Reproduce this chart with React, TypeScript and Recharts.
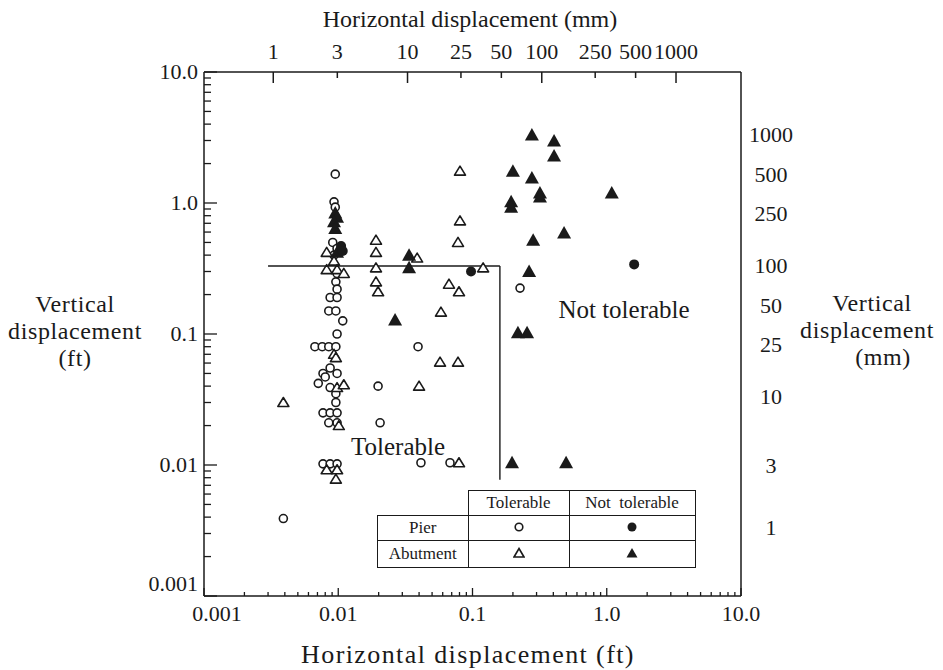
import React from "react";
import {
  ScatterChart,
  Scatter,
  XAxis,
  YAxis,
  ReferenceLine,
} from "recharts";

// Displacement data, in feet: [horizontal, vertical]
const pierTolerable: [number, number][] = [
  [0.0095, 1.66], [0.0093, 1.02], [0.0095, 0.93], [0.0091, 0.5], [0.0098, 0.45], [0.0093, 0.4],
  [0.0098, 0.29], [0.0096, 0.25], [0.0098, 0.22], [0.0087, 0.19], [0.0098, 0.19], [0.0085, 0.15],
  [0.0096, 0.15], [0.0108, 0.126], [0.0098, 0.1],
  [0.0067, 0.08], [0.0076, 0.08], [0.0085, 0.08], [0.0096, 0.08],
  [0.0087, 0.055], [0.0077, 0.05], [0.0098, 0.05], [0.008, 0.047], [0.0071, 0.042], [0.0087, 0.039],
  [0.0096, 0.035], [0.0096, 0.03], [0.0077, 0.025], [0.0087, 0.025], [0.0098, 0.025],
  [0.0085, 0.021], [0.0098, 0.021],
  [0.0077, 0.0102], [0.0087, 0.0102], [0.0098, 0.0102],
  [0.0039, 0.0039],
  [0.0198, 0.04], [0.0205, 0.021], [0.0393, 0.08], [0.0413, 0.0104], [0.068, 0.0104], [0.226, 0.224],
];

const pierNotTolerable: [number, number][] = [
  [0.0105, 0.47], [0.0108, 0.43], [0.0975, 0.3], [1.6, 0.34],
];

const abutmentTolerable: [number, number][] = [
  [0.0082, 0.42], [0.0093, 0.36], [0.0082, 0.31], [0.0098, 0.31], [0.011, 0.29],
  [0.0093, 0.07], [0.0096, 0.066], [0.0098, 0.039], [0.011, 0.041], [0.0101, 0.02],
  [0.0082, 0.0092], [0.0098, 0.0092], [0.0096, 0.0078],
  [0.0039, 0.03],
  [0.0191, 0.52], [0.0191, 0.42], [0.0191, 0.32], [0.0191, 0.25], [0.0198, 0.21], [0.0387, 0.38],
  [0.0807, 1.75], [0.0807, 0.73], [0.078, 0.5], [0.12, 0.32], [0.0668, 0.24], [0.0793, 0.21],
  [0.0582, 0.147], [0.0573, 0.061], [0.078, 0.061], [0.04, 0.04], [0.0793, 0.0104],
];

const abutmentNotTolerable: [number, number][] = [
  [0.0095, 0.84], [0.0098, 0.78], [0.0093, 0.72], [0.0095, 0.64], [0.0098, 0.42],
  [0.0337, 0.4], [0.0337, 0.32], [0.0265, 0.128],
  [0.277, 3.3], [0.405, 2.97], [0.405, 2.28], [0.2, 1.75], [0.277, 1.55], [0.318, 1.19],
  [0.318, 1.11], [0.194, 1.02], [0.194, 0.93], [1.09, 1.19], [0.481, 0.59], [0.283, 0.52],
  [0.264, 0.3], [0.218, 0.102], [0.255, 0.102], [0.197, 0.0104], [0.498, 0.0104],
];

// tolerable limit: 100 mm vertical, 50 mm horizontal
const limitY = 0.33;
const limitX = 0.16;
const limitStartX = 0.003;
const limitEndY = 0.0077;

const ftMajor = [0.001, 0.01, 0.1, 1, 10];
const ftLabels = ["0.001", "0.01", "0.1", "1.0", "10.0"];
const ftMinor = [2, 3, 4, 5, 6, 7, 8, 9];
const mmTicks = [1, 3, 10, 25, 50, 100, 250, 500, 1000];
const mmLong = [1, 10, 100, 1000];

const ftTicks: number[] = [];
ftMajor.forEach((d, i) => {
  ftTicks.push(d);
  if (i < ftMajor.length - 1) ftMinor.forEach((m) => ftTicks.push(+(d * m).toPrecision(3)));
});

const FT_TO_MM = 304.8;
const FONT = '"Liberation Serif", "Times New Roman", serif';
const INK = "#1a1a1a";

const toPts = (arr: [number, number][]) => arr.map(([x, y]) => ({ x, y }));
const toMmPts = (arr: [number, number][]) =>
  arr.map(([x, y]) => ({ x: x * FT_TO_MM, y: y * FT_TO_MM }));

const labelFor = (v: number) => {
  const i = ftMajor.findIndex((d) => Math.abs(d - v) < d * 1e-6);
  return i >= 0 ? ftLabels[i] : null;
};

const BottomTick = (props: any) => {
  const { x, y, payload } = props;
  const lab = labelFor(payload.value);
  // the first label sits a little right of its tick in the original
  const shift = lab === "0.001" ? 13 : 0;
  return (
    <g>
      <line x1={x} y1={y} x2={x} y2={y - (lab ? 8 : 4)} stroke={INK} strokeWidth={1.3} />
      {lab && (
        <text x={x + shift} y={y + 25} textAnchor="middle" fontSize={22} fontFamily={FONT} fill={INK}>
          {lab}
        </text>
      )}
    </g>
  );
};

const LeftTick = (props: any) => {
  const { x, y, payload } = props;
  const lab = labelFor(payload.value);
  const lift = lab === "0.001" ? -12 : 0;
  return (
    <g>
      <line x1={x} y1={y} x2={x + (lab ? 13 : 7)} y2={y} stroke={INK} strokeWidth={1.3} />
      {lab && (
        <text x={x - 6} y={y + 7 + lift} textAnchor="end" fontSize={22} fontFamily={FONT} fill={INK}>
          {lab}
        </text>
      )}
    </g>
  );
};

const TopTick = (props: any) => {
  const { x, y, payload } = props;
  const long = mmLong.includes(payload.value);
  return (
    <g>
      <line x1={x} y1={y} x2={x} y2={y + (long ? 11 : 6)} stroke={INK} strokeWidth={1.5} />
      <text x={x} y={y - 13} textAnchor="middle" fontSize={22} fontFamily={FONT} fill={INK}>
        {payload.value}
      </text>
    </g>
  );
};

const RightTick = (props: any) => {
  const { x, y, payload } = props;
  return (
    <text x={x + 30} y={y + 7} textAnchor="middle" fontSize={22} fontFamily={FONT} fill={INK}>
      {payload.value}
    </text>
  );
};

const OpenCircle = (p: any) => (
  <circle cx={p.cx} cy={p.cy} r={4} fill="#fff" stroke={INK} strokeWidth={1.6} />
);
const FilledCircle = (p: any) => <circle cx={p.cx} cy={p.cy} r={5} fill={INK} />;
const OpenTriangle = (p: any) => (
  <polygon
    points={`${p.cx},${p.cy - 5} ${p.cx + 5.5},${p.cy + 4} ${p.cx - 5.5},${p.cy + 4}`}
    fill="#fff"
    stroke={INK}
    strokeWidth={1.6}
    strokeLinejoin="round"
  />
);
const FilledTriangle = (p: any) => (
  <polygon
    points={`${p.cx},${p.cy - 7} ${p.cx + 7},${p.cy + 5.5} ${p.cx - 7},${p.cy + 5.5}`}
    fill={INK}
  />
);

const abs = (left: number, top: number, extra: React.CSSProperties = {}): React.CSSProperties => ({
  position: "absolute",
  left,
  top,
  fontFamily: FONT,
  color: INK,
  whiteSpace: "nowrap",
  lineHeight: 1,
  ...extra,
});

const cell: React.CSSProperties = {
  border: `1.5px solid ${INK}`,
  padding: 0,
  textAlign: "center",
  fontSize: 17,
};

export default function App() {
  return (
    <div style={{ position: "relative", width: 935, height: 662, background: "#fff" }}>
      <ScatterChart width={935} height={662} margin={{ top: 0, right: 0, bottom: 0, left: 0 }}>
        <XAxis
          xAxisId="ft"
          dataKey="x"
          type="number"
          scale="log"
          domain={[0.001, 10]}
          allowDataOverflow
          ticks={ftTicks}
          interval={0}
          orientation="bottom"
          height={74}
          tickLine={false}
          tickSize={0}
          tickMargin={0}
          tick={BottomTick}
          axisLine={{ stroke: INK, strokeWidth: 1.5 }}
        />
        <XAxis
          xAxisId="mm"
          dataKey="x"
          type="number"
          scale="log"
          domain={[0.001 * FT_TO_MM, 10 * FT_TO_MM]}
          allowDataOverflow
          ticks={mmTicks}
          interval={0}
          orientation="top"
          height={64}
          tickLine={false}
          tickSize={0}
          tickMargin={0}
          tick={TopTick}
          axisLine={{ stroke: INK, strokeWidth: 1.5 }}
        />
        <YAxis
          yAxisId="ft"
          dataKey="y"
          type="number"
          scale="log"
          domain={[0.001, 10]}
          allowDataOverflow
          ticks={ftTicks}
          interval={0}
          orientation="left"
          width={196}
          tickLine={false}
          tickSize={0}
          tickMargin={0}
          tick={LeftTick}
          axisLine={{ stroke: INK, strokeWidth: 1.5 }}
        />
        <YAxis
          yAxisId="mm"
          dataKey="y"
          type="number"
          scale="log"
          domain={[0.001 * FT_TO_MM, 10 * FT_TO_MM]}
          allowDataOverflow
          ticks={mmTicks}
          interval={0}
          orientation="right"
          width={202}
          tickLine={false}
          tickSize={0}
          tickMargin={0}
          tick={RightTick}
          axisLine={{ stroke: INK, strokeWidth: 1.5 }}
        />
        <ReferenceLine
          xAxisId="ft"
          yAxisId="ft"
          segment={[{ x: limitStartX, y: limitY }, { x: limitX, y: limitY }]}
          stroke={INK}
          strokeWidth={1.4}
        />
        <ReferenceLine
          xAxisId="ft"
          yAxisId="ft"
          segment={[{ x: limitX, y: limitY }, { x: limitX, y: limitEndY }]}
          stroke={INK}
          strokeWidth={1.4}
        />
        <Scatter xAxisId="ft" yAxisId="ft" data={toPts(pierTolerable)} shape={OpenCircle} isAnimationActive={false} />
        <Scatter xAxisId="ft" yAxisId="ft" data={toPts(abutmentTolerable)} shape={OpenTriangle} isAnimationActive={false} />
        <Scatter xAxisId="ft" yAxisId="ft" data={toPts(abutmentNotTolerable)} shape={FilledTriangle} isAnimationActive={false} />
        {/* same points, plotted against the mm axes */}
        <Scatter xAxisId="mm" yAxisId="mm" data={toMmPts(pierNotTolerable)} shape={FilledCircle} isAnimationActive={false} />
      </ScatterChart>

      <div style={abs(262, -1, { width: 400, textAlign: "center", fontSize: 24 })}>
        Horizontal displacement (mm)
      </div>
      <div style={abs(210, 634, { width: 500, textAlign: "center", fontSize: 26, letterSpacing: 1.4 })}>
        Horizontal displacement (ft)
      </div>
      <div style={abs(-3, 283, { width: 140, textAlign: "center", fontSize: 24, letterSpacing: 0.6, lineHeight: "27px" })}>
        Vertical
        <br />
        displacement
        <br />
        (ft)
      </div>
      <div style={abs(804, 283, { width: 120, textAlign: "center", fontSize: 24, letterSpacing: 0.6 })}>Vertical</div>
      <div style={abs(789, 310, { width: 140, textAlign: "center", fontSize: 24, letterSpacing: 0.6 })}>displacement</div>
      <div style={abs(815, 337, { width: 120, textAlign: "center", fontSize: 24, letterSpacing: 0.6 })}>(mm)</div>
      <div style={abs(330, 426, { width: 120, textAlign: "center", fontSize: 25 })}>Tolerable</div>
      <div style={abs(541, 289, { width: 150, textAlign: "center", fontSize: 25 })}>Not tolerable</div>

      <table
        style={{
          position: "absolute",
          left: 369,
          top: 482,
          borderCollapse: "collapse",
          fontFamily: FONT,
          color: INK,
          background: "#fff",
        }}
      >
        <tbody>
          <tr style={{ height: 25 }}>
            <td style={{ ...cell, border: "none", borderRight: `1.5px solid ${INK}`, width: 90 }} />
            <td style={{ ...cell, width: 100 }}>Tolerable</td>
            <td style={{ ...cell, width: 125 }}>Not&nbsp; tolerable</td>
          </tr>
          <tr style={{ height: 25 }}>
            <td style={cell}>Pier</td>
            <td style={cell}>
              <svg width={12} height={12}>
                <circle cx={6} cy={6} r={3.8} fill="#fff" stroke={INK} strokeWidth={1.6} />
              </svg>
            </td>
            <td style={cell}>
              <svg width={12} height={12}>
                <circle cx={6} cy={6} r={4.5} fill={INK} />
              </svg>
            </td>
          </tr>
          <tr style={{ height: 27 }}>
            <td style={cell}>Abutment</td>
            <td style={cell}>
              <svg width={12} height={12}>
                <polygon points="6,1.5 11,10 1,10" fill="#fff" stroke={INK} strokeWidth={1.6} />
              </svg>
            </td>
            <td style={cell}>
              <svg width={12} height={12}>
                <polygon points="6,1 11.5,10.5 0.5,10.5" fill={INK} />
              </svg>
            </td>
          </tr>
        </tbody>
      </table>
    </div>
  );
}
